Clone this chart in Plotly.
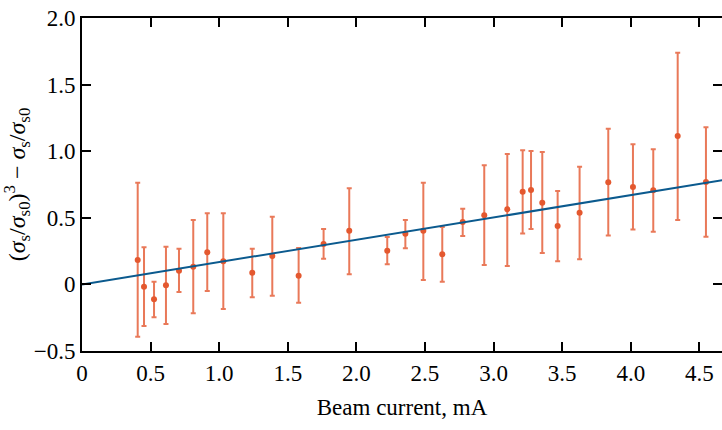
import plotly.graph_objects as go

# Data
beam_current = [0.406, 0.452, 0.525, 0.612, 0.707, 0.811, 0.913, 1.030, 1.241, 1.387,
                1.579, 1.761, 1.948, 2.225, 2.357, 2.488, 2.626, 2.775, 2.932, 3.100,
                3.212, 3.273, 3.355, 3.467, 3.627, 3.836, 4.016, 4.164, 4.342, 4.548]
y_values = [0.183, -0.017, -0.112, -0.007, 0.103, 0.133, 0.241, 0.173, 0.088, 0.213,
            0.065, 0.303, 0.403, 0.253, 0.381, 0.403, 0.226, 0.468, 0.519, 0.564,
            0.696, 0.709, 0.613, 0.438, 0.538, 0.766, 0.731, 0.706, 1.114, 0.769]
err_plus = [0.581, 0.295, 0.132, 0.290, 0.165, 0.350, 0.293, 0.361, 0.180, 0.295,
            0.208, 0.113, 0.318, 0.103, 0.102, 0.361, 0.205, 0.100, 0.375, 0.415,
            0.311, 0.293, 0.381, 0.263, 0.346, 0.403, 0.321, 0.308, 0.626, 0.410]
err_minus = [0.576, 0.295, 0.135, 0.290, 0.160, 0.350, 0.291, 0.358, 0.185, 0.298,
             0.202, 0.110, 0.327, 0.102, 0.110, 0.370, 0.206, 0.105, 0.373, 0.426,
             0.313, 0.293, 0.377, 0.265, 0.350, 0.398, 0.318, 0.310, 0.631, 0.411]

fit_slope = 0.1675
fit_intercept = 0.0
fit_x = [0.0, 4.7]
fit_y = [fit_intercept + fit_slope * v for v in fit_x]

x_tickvals = [0, 0.5, 1.0, 1.5, 2.0, 2.5, 3.0, 3.5, 4.0, 4.5]
x_ticktext = ["0", "0.5", "1.0", "1.5", "2.0", "2.5", "3.0", "3.5", "4.0", "4.5"]
y_tickvals = [-0.5, 0, 0.5, 1.0, 1.5, 2.0]
y_ticktext = ["\u22120.5", "0", "0.5", "1.0", "1.5", "2.0"]

err_color = "rgba(228,88,48,0.8)"
pt_color = "#e4582f"
line_color = "#0b5a8e"
font_family = "Liberation Serif, Times New Roman, serif"

fig = go.Figure()
fig.add_trace(go.Scatter(
    x=beam_current, y=y_values, mode="markers",
    marker=dict(color=pt_color, size=6),
    error_y=dict(type="data", symmetric=False, array=err_plus, arrayminus=err_minus,
                 color=err_color, thickness=2, width=2.5),
    showlegend=False,
))
fig.add_trace(go.Scatter(
    x=fit_x, y=fit_y, mode="lines",
    line=dict(color=line_color, width=2),
    showlegend=False,
))

axis_common = dict(
    showline=True, linecolor="black", linewidth=2, mirror="ticks",
    ticks="inside", ticklen=9, tickwidth=1.5, tickcolor="black",
    showgrid=False, zeroline=False, automargin=False,
    tickfont=dict(family=font_family, size=23, color="black"),
)

fig.update_layout(
    width=722, height=430,
    margin=dict(l=82, r=0, t=18, b=79),
    plot_bgcolor="white", paper_bgcolor="white",
    font=dict(family=font_family, color="black"),
    xaxis=dict(range=[0, 4.665], tickvals=x_tickvals, ticktext=x_ticktext,
               title=dict(text="Beam current, mA", font=dict(family=font_family, size=23), standoff=14),
               **axis_common),
    yaxis=dict(range=[-0.5, 2.0], tickvals=y_tickvals, ticktext=y_ticktext,
               title=dict(text="(<i>σ</i><sub>s</sub>/<i>σ</i><sub>s0</sub>)<sup>3</sup> − <i>σ</i><sub>s</sub>/<i>σ</i><sub>s0</sub>",
                          font=dict(family=font_family, size=24), standoff=8),
               **axis_common),
)

fig.write_html("out.html", config={"displayModeBar": False},
               post_script="document.body.style.margin='0';document.body.style.overflow='hidden';")
